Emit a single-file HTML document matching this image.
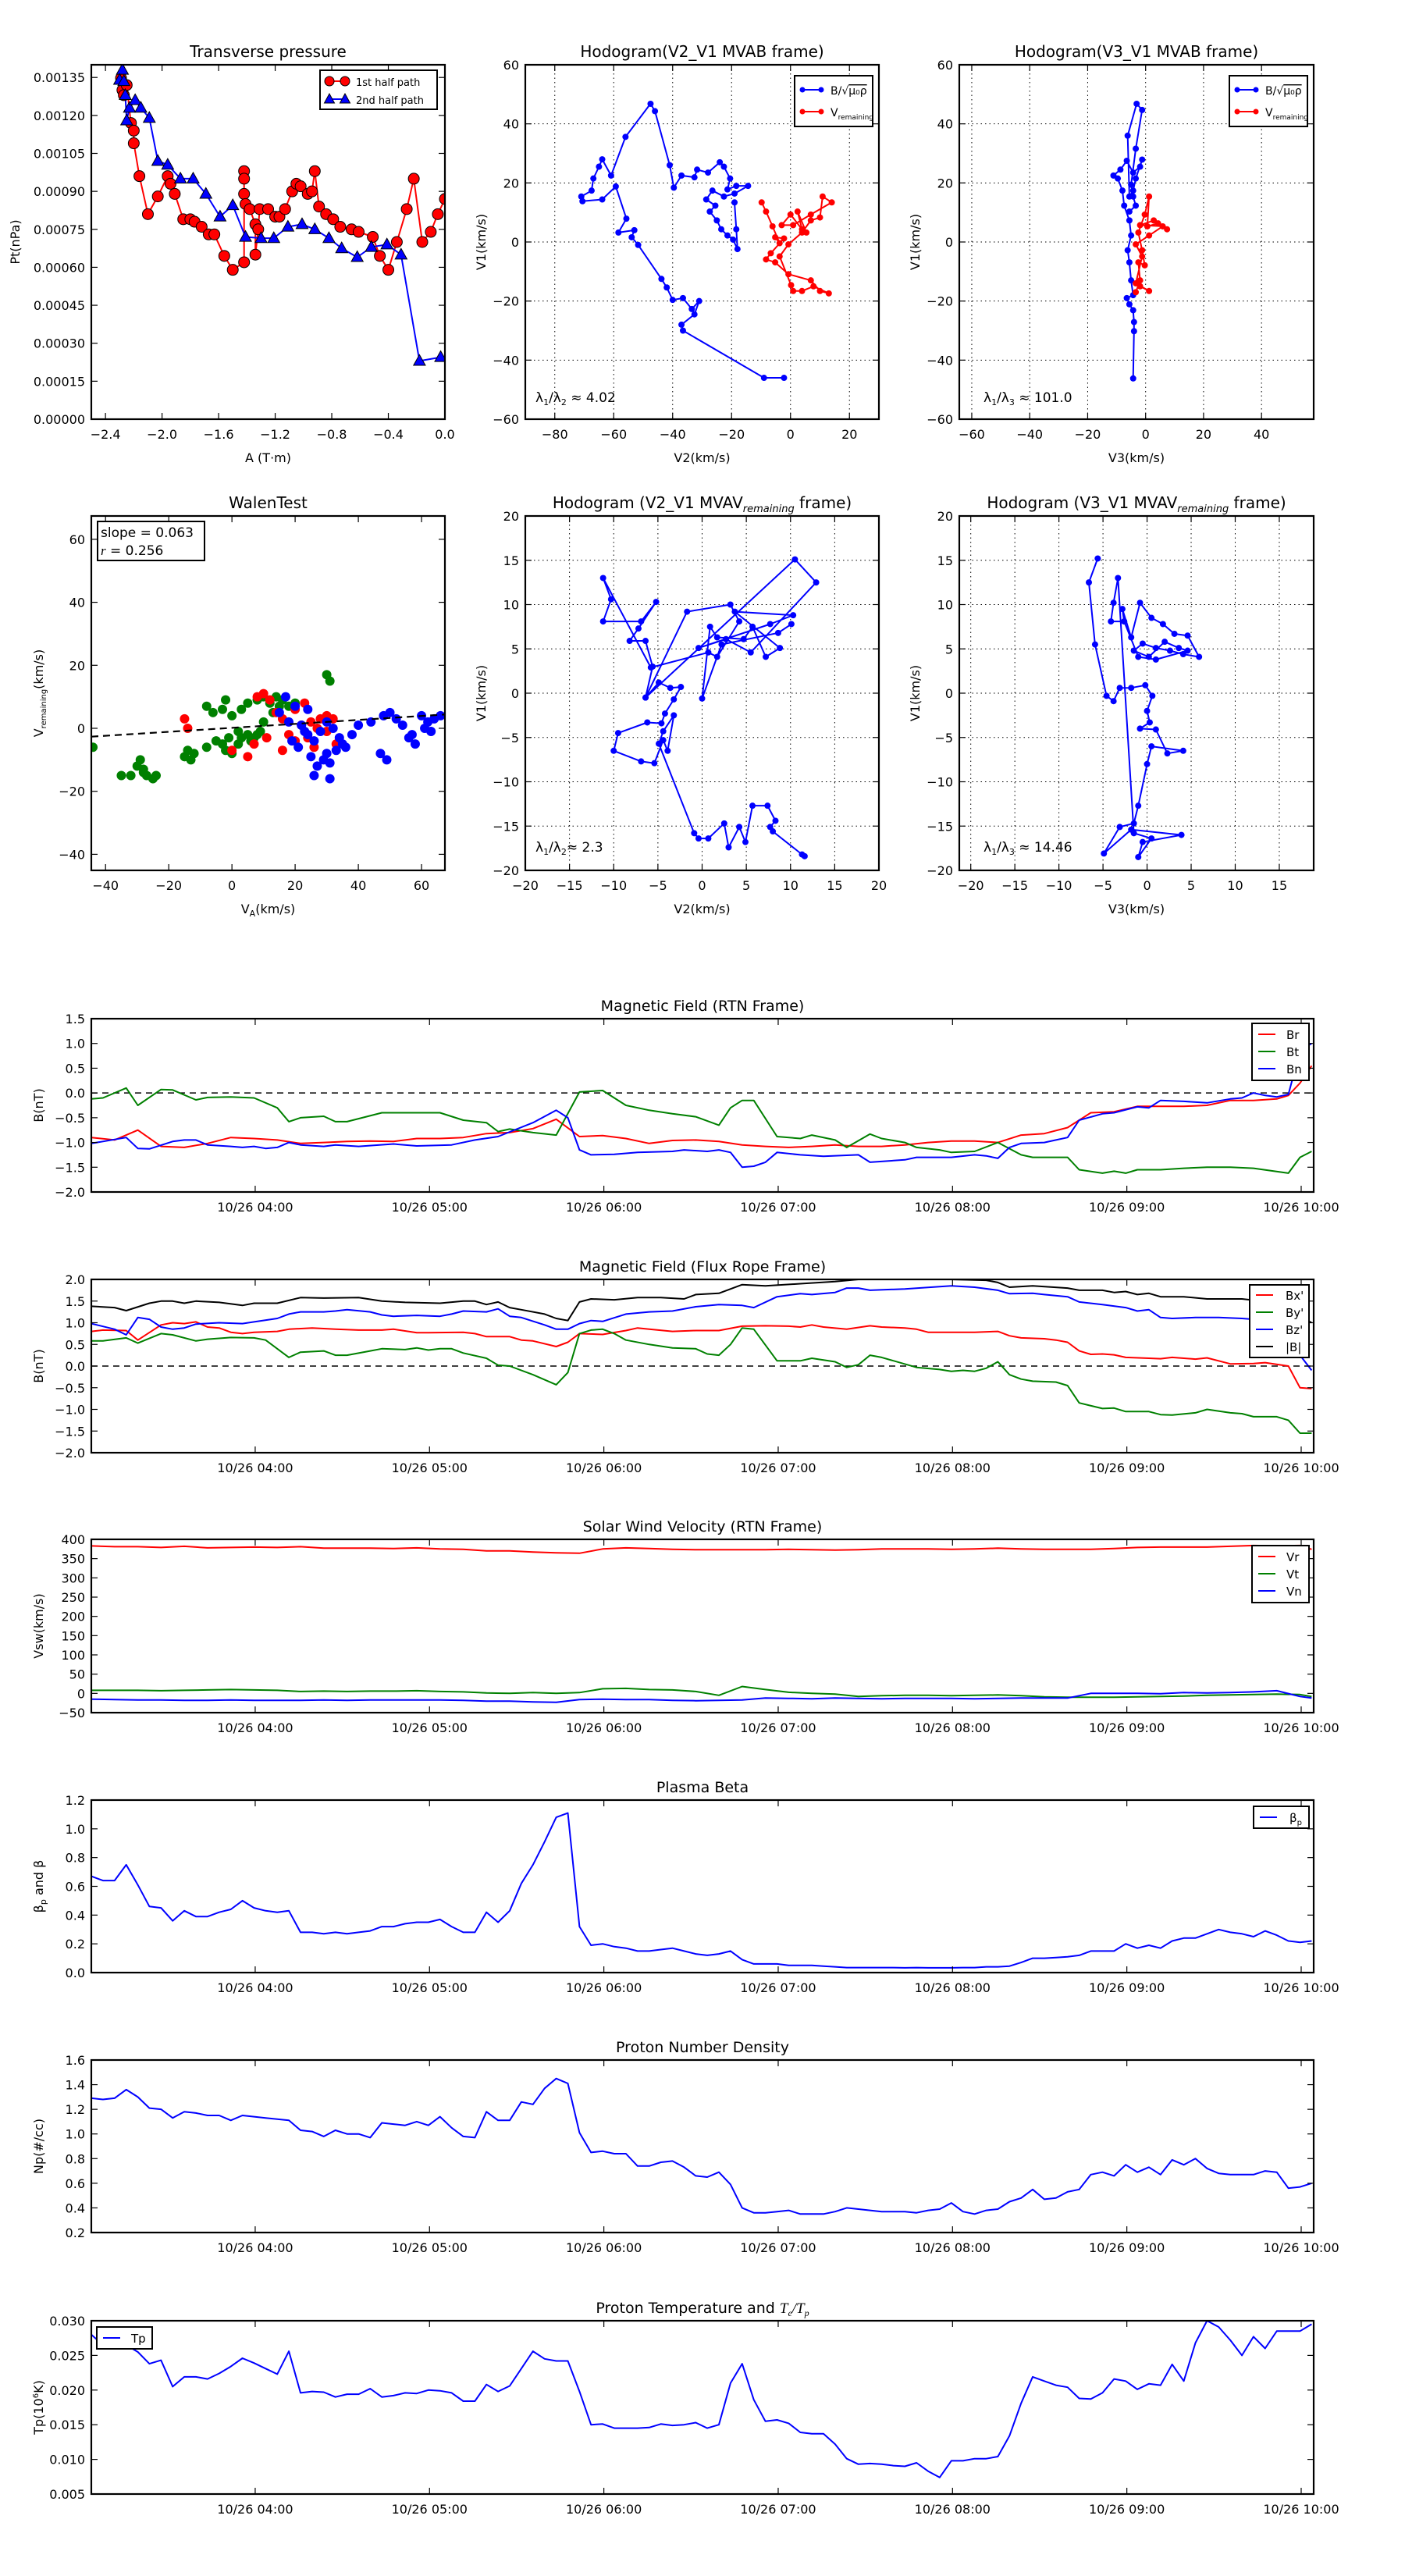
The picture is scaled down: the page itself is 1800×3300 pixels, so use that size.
<!DOCTYPE html>
<html><head><meta charset="utf-8">
<style>
html,body{margin:0;padding:0;background:#fff;}
svg{display:block;font-family:"DejaVu Sans","Liberation Sans",sans-serif;}
</style></head>
<body>
<svg id="fig" xmlns="http://www.w3.org/2000/svg" width="1800" height="3300" viewBox="0 0 1800 3300">
<rect x="0" y="0" width="1800" height="3300" fill="#fff"/>
</svg>
<script>
// ---------------- DATA ----------------
// Transverse pressure
const tp1A=[-2.29,-2.28,-2.27,-2.25,-2.22,-2.20,-2.20,-2.16,-2.10,-2.03,-1.96,-1.94,-1.91,-1.85,-1.80,-1.77,-1.72,-1.67,-1.63,-1.56,-1.50,-1.42,-1.42,-1.42,-1.42,-1.41,-1.38,-1.34,-1.34,-1.32,-1.31,-1.25,-1.20,-1.17,-1.13,-1.08,-1.05,-1.02,-0.97,-0.94,-0.92,-0.89,-0.84,-0.79,-0.74,-0.66,-0.61,-0.51,-0.46,-0.40,-0.34,-0.27,-0.22,-0.16,-0.10,-0.05,0.0];
const tp1P=[1.347,1.30,1.28,1.32,1.17,1.14,1.09,0.96,0.81,0.88,0.96,0.93,0.89,0.79,0.79,0.78,0.76,0.73,0.73,0.645,0.59,0.62,0.98,0.95,0.89,0.85,0.83,0.77,0.65,0.75,0.83,0.83,0.80,0.80,0.83,0.90,0.93,0.92,0.89,0.90,0.98,0.84,0.81,0.79,0.76,0.75,0.74,0.72,0.645,0.59,0.70,0.83,0.95,0.70,0.74,0.81,0.87];
const tp2A=[-2.28,-2.30,-2.27,-2.26,-2.25,-2.23,-2.19,-2.15,-2.09,-2.03,-1.96,-1.87,-1.78,-1.69,-1.59,-1.50,-1.41,-1.30,-1.21,-1.11,-1.01,-0.92,-0.82,-0.73,-0.62,-0.52,-0.41,-0.31,-0.18,-0.03];
const tp2P=[1.38,1.34,1.335,1.28,1.18,1.23,1.26,1.23,1.19,1.02,1.005,0.95,0.95,0.89,0.80,0.845,0.72,0.715,0.715,0.76,0.77,0.75,0.715,0.675,0.64,0.68,0.69,0.65,0.23,0.245];
// Hodogram V2-V1 MVAB
const h1BV2=[-2.2,-9,-36.5,-37,-32.6,-31,-33.5,-36.5,-40,-42,-43.8,-51.7,-53.9,-53,-58.4,-55.7,-59.3,-63.9,-70.6,-71,-67.5,-66.9,-65,-63.9,-60.9,-56,-47.5,-46,-41,-39.6,-37,-32.6,-31.7,-28,-24,-22.6,-20.5,-21.4,-18.4,-14.4,-19,-22.6,-26.5,-28.6,-25.5,-27.4,-25,-23.5,-21.4,-19.5,-18,-18.4,-19];
const h1BV1=[-46,-46,-30,-28,-24.5,-20,-22.7,-19,-19.6,-15.4,-12.5,-1,1.6,4,3.2,7.9,18.8,14.4,13.8,15.4,17.4,21.5,25.5,28,22.5,35.6,46.8,44.3,26,18.4,22.5,21.9,24.5,23.5,27,25.5,21.5,17.8,19,19,16.4,15.4,17.4,14.4,12.3,10.3,7.3,4.3,2.2,0.8,-2.4,4.3,13.4];
const h1VV2=[-9.8,-8.3,-6.1,-3.7,-5.2,-2.2,-6.7,-8.3,-5.2,-0.7,6.9,10,13,7.8,3.9,0.9,0.2,-3.7,-0.7,3.9,6.9,10,10.9,14,6.9,0.9,-3,0,3.9,2.4,5.4];
const h1VV1=[13.4,10.3,5.3,-0.4,1.6,1.2,-3.8,-5.9,-6.9,-10.9,-13,-16.6,-17.4,-15,-16.6,-16.6,-14.6,-4.9,-0.8,3.2,7.3,8.3,15.4,13.4,9.3,5.7,5.7,9.3,4.3,10.3,3.2];
// Hodogram V3-V1 MVAB
const h2BV3=[-4.3,-4.0,-4.0,-4.3,-5.6,-6.5,-4.3,-5.0,-5.6,-6.2,-5.0,-5.6,-7.4,-8.0,-9.6,-11.1,-8.7,-6.5,-4.3,-1.9,-1.2,-3.4,-4.3,-5.6,-6.2,-3.1,-1.2,-3.4,-5.0,-4.3,-3.4,-5.6];
const h2BV1=[-46.2,-30.2,-27.1,-23.1,-21.1,-19.0,-18.0,-13.0,-6.9,-2.8,2.2,7.3,12.3,17.4,21.5,22.5,24.5,27.5,23.5,25.5,27.9,21.5,17.4,15.4,36.0,46.8,44.7,31.6,19.4,15.4,12.3,10.3];
const h2VV3=[-3.4,-1.9,-2.5,-0.3,-1.2,-2.5,-0.3,1.2,0.6,4.3,7.4,2.8,-1.9,5.9,1.2,-3.4,-1.2,-3.4,1.2,-1.9];
const h2VV1=[-17,-13,-6.9,-7.9,-2.8,3.2,9.3,15.4,5.3,6.3,4.3,7.3,5.7,5.3,2.2,-0.8,-4.9,-14,-16.6,-15];
// Walen test
const wGx=[-44,-35,-32,-30,-29,-28,-27,-25,-24,-28,-15,-14,-13,-12,-8,-5,-3,-2,0,2,3,5,7,9,-8,-6,-3,-2,0,3,5,8,10,12,14,16,18,13,10,8,6,30,31,20,15,2,-1];
const wGy=[-6,-15,-15,-12,-10,-13,-15,-16,-15,-14,-9,-7,-10,-8,-6,-4,-5,-7,-8,-5,-3,-2,-3,-1,7,5,6,9,4,6,8,9,10,8,10,9,7,5,2,-2,-4,17,15,8,7,-1,-3];
const wRx=[-15,-14,0,5,8,10,12,14,16,18,20,22,24,25,28,30,32,33,26,16,20,23,27,30,11,7];
const wRy=[3,0,-7,-9,10,11,9,5,3,-2,-4,1,-3,2,3,4,3,-5,-6,-7,6,8,0,-1,-3,-5];
const wBx=[15,17,20,22,24,26,28,30,32,34,36,38,40,19,21,25,27,29,26,31,33,35,48,50,52,54,57,60,62,64,66,61,63,47,49,56,58,18,23,31,30,24,44];
const wBy=[5,10,7,1,-2,-4,-1,2,0,-3,-6,-2,1,-4,-6,-9,-12,-10,-15,-16,-7,-5,4,5,3,1,-2,4,2,3,4,0,-1,-8,-10,-3,-5,2,-1,-11,-8,6,2];
const walenSlope=0.063, walenIntercept=0.15;
// Hodogram V2-V1 MVAV remaining
const h3V2=[11.6,11.3,8,7.7,8.3,7.4,5.7,4.9,4.2,3,2.5,0.7,-0.4,-0.9,-4.9,-4.4,-3.2,-3.9,-4.4,-5.4,-6.9,-10,-9.5,-6.2,-4.6,-4.2,-3.2,-2.4,-3.6,-4.9,-6.4,-5.6,-6.4,-8.2,-7.2,-5.2,-6.9,-11.2,-10.3,-11.2,-5.8,0.7,1.7,4.2,3.2,-1.7,-6.4,10.5,12.9,5.5,2.7,-0.4,7.7,10.3,3.7,8.8,7.2,5.7,4.7,1.7,0.9,0,2.2,8.6,10.1];
const h3V1=[-18.4,-18.2,-15.6,-15.1,-14.4,-12.7,-12.7,-16.8,-15.1,-17.4,-14.7,-16.4,-16.4,-15.8,-5.7,-4.3,-2.5,-6.5,-5.3,-7.9,-7.7,-6.5,-4.5,-3.3,-3.4,-2.3,-0.7,0.7,0.6,1.2,-0.5,3,5.9,5.9,7.3,10.3,8.1,8.1,10.6,13,2.9,4.6,4.1,8.1,10,9.2,-0.5,15.1,12.5,4.6,6.1,5.1,7.8,8.8,9.2,5.1,4.1,7.5,6.1,6.3,7.5,-0.6,5.5,6.8,7.8];
// Hodogram V3-V1 MVAV remaining
const h4V3=[-5.6,-6.6,-5.9,-4.6,-3.8,-3.1,-1.8,-0.2,0.6,0,0.3,-0.8,1,2.3,4.1,0.5,0,-1,-1.5,-3.1,-4.9,-1.8,3.9,-0.5,-1,0.5,-1.5,-3.3,-3.8,-4.1,-2.6,-2.8,-1.8,-0.8,0.5,1.8,3.1,4.6,5.9,4.1,2.6,1,-0.5,-1.5,0.2,2,3.6,4.6,1,-1,-2.6];
const h4V1=[15.2,12.5,5.5,-0.3,-0.9,0.6,0.6,0.9,-0.3,-2,-3.3,-4,-4.1,-6.8,-6.5,-6,-8,-12.7,-14.7,-15.1,-18.1,-15.4,-16,-16.8,-18.5,-16.4,-15.8,13,10.2,8.1,8.1,9.5,6.3,10.2,8.5,7.8,6.7,6.5,4.1,4.4,4.8,5.1,5.6,4.8,4.1,5.8,5.1,4.8,3.8,4.1,8.1];
// Time series: sample index on a 4-minute grid starting 03:03.6
const timeTickLabels=["10/26 04:00","10/26 05:00","10/26 06:00","10/26 07:00","10/26 08:00","10/26 09:00","10/26 10:00"];
const timeTickMinutes=[60,120,180,240,300,360,420];
const BrIdx=[0,2,4,6,8,10,12,14,16,18,20,22,24,26,28,30,32,34,36,38,40,42,44,46,48,50,52,54,56,58,60,62,64,66,68,70,72,74,76,78,80,82,84,86,88,90,92,94,96,98,100,102,103,104,105];
const BrVal=[-0.90,-0.95,-0.75,-1.08,-1.10,-1.02,-0.90,-0.92,-0.95,-1.02,-1.00,-0.98,-0.97,-0.98,-0.92,-0.92,-0.90,-0.82,-0.80,-0.72,-0.53,-0.88,-0.86,-0.92,-1.02,-0.96,-0.95,-0.98,-1.05,-1.08,-1.10,-1.08,-1.05,-1.08,-1.08,-1.05,-1.00,-0.97,-0.97,-1.00,-0.85,-0.82,-0.70,-0.40,-0.38,-0.27,-0.27,-0.27,-0.25,-0.15,-0.15,-0.12,-0.05,0.2,0.55];
const BtIdx=[0,1,3,4,6,7,9,10,12,14,16,17,18,20,21,22,25,28,30,32,34,35,36,38,40,42,44,46,48,50,52,54,55,56,57,59,61,62,64,65,67,68,70,71,73,74,76,78,80,81,84,85,87,88,89,90,92,94,96,98,100,103,104,105];
const BtVal=[-0.12,-0.1,0.1,-0.25,0.07,0.06,-0.14,-0.09,-0.08,-0.1,-0.3,-0.58,-0.5,-0.47,-0.58,-0.58,-0.4,-0.4,-0.4,-0.55,-0.6,-0.78,-0.73,-0.8,-0.85,0.02,0.05,-0.25,-0.35,-0.42,-0.48,-0.65,-0.3,-0.15,-0.15,-0.88,-0.92,-0.85,-0.95,-1.1,-0.83,-0.92,-1.0,-1.1,-1.15,-1.2,-1.18,-1.0,-1.25,-1.3,-1.3,-1.55,-1.62,-1.58,-1.62,-1.55,-1.55,-1.52,-1.5,-1.5,-1.52,-1.62,-1.3,-1.18];
const BnIdx=[0,3,4,5,7,8,9,10,12,13,14,15,16,17,18,20,21,23,26,28,31,33,35,38,40,41,42,43,45,47,50,51,53,54,55,56,57,58,59,61,63,66,67,70,71,74,76,77,78,79,80,82,83,84,85,87,88,90,91,92,94,96,98,99,100,101,102,103,104,105];
const BnVal=[-1.02,-0.9,-1.12,-1.13,-0.98,-0.95,-0.95,-1.05,-1.08,-1.1,-1.08,-1.12,-1.1,-1.0,-1.05,-1.08,-1.05,-1.08,-1.03,-1.07,-1.05,-0.95,-0.88,-0.6,-0.35,-0.5,-1.15,-1.25,-1.24,-1.2,-1.18,-1.15,-1.18,-1.15,-1.2,-1.5,-1.48,-1.4,-1.2,-1.25,-1.28,-1.25,-1.4,-1.35,-1.3,-1.3,-1.25,-1.27,-1.32,-1.1,-1.02,-1.0,-0.95,-0.9,-0.55,-0.42,-0.4,-0.28,-0.3,-0.15,-0.17,-0.2,-0.12,-0.1,0,-0.05,-0.08,-0.03,0.85,1.0];
const BxIdx=[0,1,3,4,6,7,8,9,10,11,12,13,14,16,17,19,21,23,25,26,28,29,32,33,34,36,37,38,40,41,42,44,46,47,48,50,52,54,56,58,60,61,62,63,65,67,68,70,71,72,74,76,78,79,80,82,83,84,85,86,87,88,89,91,92,93,95,96,98,100,101,103,104,105];
const BxVal=[0.8,0.83,0.82,0.6,0.95,1.0,0.98,1.02,0.9,0.88,0.78,0.75,0.78,0.8,0.85,0.88,0.85,0.83,0.83,0.85,0.77,0.77,0.78,0.75,0.68,0.68,0.6,0.58,0.45,0.55,0.75,0.73,0.82,0.88,0.85,0.8,0.82,0.82,0.92,0.93,0.92,0.9,0.95,0.9,0.85,0.93,0.9,0.88,0.85,0.78,0.78,0.78,0.8,0.7,0.65,0.63,0.6,0.55,0.35,0.27,0.28,0.26,0.2,0.18,0.17,0.2,0.16,0.19,0.05,0.06,0.08,0.0,-0.5,-0.52];
const ByIdx=[0,1,3,4,6,7,9,10,12,14,15,17,18,20,21,22,24,25,27,28,29,30,31,32,34,35,36,38,40,41,42,43,44,45,46,48,50,52,53,54,55,56,57,59,61,62,64,65,66,67,68,71,73,74,75,76,77,78,79,80,81,83,84,85,87,88,89,91,92,93,95,96,98,99,100,102,103,104,105];
const ByVal=[0.58,0.58,0.65,0.53,0.75,0.72,0.58,0.62,0.66,0.65,0.6,0.2,0.32,0.35,0.25,0.25,0.35,0.4,0.38,0.42,0.37,0.4,0.4,0.3,0.18,0.02,0.0,-0.2,-0.43,-0.15,0.75,0.83,0.85,0.75,0.6,0.5,0.42,0.4,0.28,0.25,0.5,0.88,0.85,0.12,0.12,0.18,0.1,-0.03,0.03,0.25,0.2,-0.03,-0.08,-0.12,-0.1,-0.12,-0.05,0.1,-0.2,-0.3,-0.35,-0.37,-0.45,-0.85,-0.98,-0.97,-1.05,-1.05,-1.12,-1.13,-1.08,-1.0,-1.08,-1.1,-1.17,-1.17,-1.25,-1.55,-1.55];
const BzIdx=[0,2,3,4,5,6,7,8,9,11,13,14,16,17,18,20,21,22,24,25,26,28,30,31,32,34,35,36,37,39,40,41,42,43,44,46,48,50,52,54,56,57,59,61,62,64,65,66,67,70,74,76,78,79,81,82,84,85,87,89,90,91,92,93,95,97,99,100,103,104,105];
const BzVal=[0.98,0.85,0.72,1.12,1.08,0.9,0.85,0.88,0.97,1.0,0.98,1.02,1.1,1.2,1.25,1.25,1.27,1.3,1.25,1.18,1.15,1.17,1.15,1.2,1.27,1.25,1.32,1.15,1.12,0.95,0.85,0.85,0.98,1.05,1.03,1.2,1.25,1.27,1.37,1.42,1.4,1.35,1.6,1.67,1.65,1.7,1.8,1.8,1.75,1.78,1.85,1.82,1.75,1.67,1.68,1.65,1.6,1.48,1.42,1.35,1.27,1.3,1.12,1.1,1.12,1.12,1.1,1.08,0.7,0.25,-0.1];
const BmIdx=[0,2,3,5,6,7,8,9,11,13,14,16,18,20,23,25,27,30,32,33,34,35,36,37,39,40,41,42,43,45,47,49,51,52,54,56,58,61,64,66,70,74,77,78,79,81,84,85,87,88,89,90,91,92,94,96,99,100,102,103,105];
const BmVal=[1.38,1.35,1.28,1.45,1.5,1.5,1.45,1.5,1.47,1.4,1.45,1.45,1.58,1.57,1.58,1.5,1.47,1.45,1.5,1.5,1.42,1.48,1.35,1.3,1.2,1.1,1.05,1.48,1.55,1.53,1.58,1.58,1.55,1.65,1.68,1.88,1.85,1.9,1.95,2.0,2.0,2.0,1.98,1.93,1.82,1.85,1.8,1.75,1.75,1.7,1.72,1.65,1.68,1.6,1.6,1.55,1.55,1.52,1.5,1.3,1.0];
const evenIdx=[0,2,4,6,8,10,12,14,16,18,20,22,24,26,28,30,32,34,36,38,40,42,44,46,48,50,52,54,56,58,60,62,64,66,68,70,72,74,76,78,80,82,84,86,88,90,92,94,96,98,100,102,104,105];
const VrVal=[383,381,381,379,382,378,379,380,379,381,377,377,377,376,378,375,374,370,370,367,365,364,375,378,376,374,373,373,373,373,374,373,372,373,375,375,375,374,375,377,375,374,374,374,376,379,380,380,380,382,384,383,384,374];
const VtVal=[8,8,8,7,8,9,10,9,8,5,6,5,6,6,7,5,4,1,0,2,0,2,12,13,10,9,5,-5,18,10,3,0,-2,-8,-6,-5,-5,-6,-5,-4,-6,-9,-10,-10,-10,-9,-8,-7,-5,-4,-3,-2,-3,-8];
const VnVal=[-15,-16,-17,-17,-18,-18,-17,-18,-18,-18,-17,-18,-17,-17,-17,-17,-18,-20,-20,-22,-23,-16,-15,-16,-16,-18,-19,-18,-17,-12,-13,-14,-12,-13,-14,-13,-13,-13,-14,-13,-12,-12,-12,0,0,0,-1,2,1,2,4,7,-8,-12];
const betaVal=[0.67,0.64,0.64,0.75,0.61,0.46,0.45,0.36,0.43,0.39,0.39,0.42,0.44,0.50,0.45,0.43,0.42,0.43,0.28,0.28,0.27,0.28,0.27,0.28,0.29,0.32,0.32,0.34,0.35,0.35,0.37,0.32,0.28,0.28,0.42,0.35,0.43,0.62,0.75,0.91,1.08,1.11,0.32,0.19,0.20,0.18,0.17,0.15,0.15,0.16,0.17,0.15,0.13,0.12,0.13,0.15,0.09,0.06,0.06,0.06,0.05,0.05,0.05,0.045,0.04,0.035,0.035,0.035,0.035,0.035,0.033,0.035,0.033,0.033,0.033,0.035,0.035,0.04,0.04,0.045,0.07,0.10,0.10,0.105,0.11,0.12,0.15,0.15,0.15,0.20,0.17,0.19,0.17,0.22,0.24,0.24,0.27,0.30,0.28,0.27,0.25,0.29,0.26,0.22,0.21,0.22];
const npVal=[1.29,1.28,1.29,1.36,1.30,1.21,1.20,1.13,1.18,1.17,1.15,1.15,1.11,1.15,1.14,1.13,1.12,1.11,1.03,1.02,0.98,1.03,1.00,1.00,0.97,1.09,1.08,1.07,1.10,1.07,1.14,1.05,0.98,0.97,1.18,1.11,1.11,1.26,1.24,1.37,1.45,1.41,1.01,0.85,0.86,0.84,0.84,0.74,0.74,0.77,0.78,0.73,0.66,0.65,0.69,0.59,0.40,0.36,0.36,0.37,0.38,0.35,0.35,0.35,0.37,0.40,0.39,0.38,0.37,0.37,0.37,0.36,0.38,0.39,0.44,0.37,0.35,0.38,0.39,0.45,0.48,0.55,0.47,0.48,0.53,0.55,0.67,0.69,0.66,0.75,0.69,0.73,0.67,0.79,0.75,0.80,0.72,0.68,0.67,0.67,0.67,0.70,0.69,0.56,0.57,0.60];
const tpVal=[0.0280,0.0265,0.0262,0.0265,0.0255,0.0238,0.0243,0.0205,0.0219,0.0219,0.0216,0.0224,0.0234,0.0246,0.0239,0.0231,0.0223,0.0256,0.0196,0.0198,0.0197,0.0190,0.0194,0.0194,0.0202,0.0190,0.0192,0.0196,0.0195,0.0200,0.0199,0.0196,0.0184,0.0184,0.0208,0.0198,0.0206,0.0231,0.0256,0.0245,0.0242,0.0242,0.0198,0.0150,0.0151,0.0145,0.0145,0.0145,0.0146,0.0151,0.0149,0.0150,0.0153,0.0145,0.0150,0.0210,0.0238,0.0186,0.0155,0.0157,0.0152,0.0139,0.0137,0.0137,0.0122,0.0101,0.0093,0.0094,0.0093,0.0091,0.0090,0.0095,0.0083,0.0074,0.0098,0.0098,0.0101,0.0101,0.0104,0.0134,0.0181,0.0219,0.0213,0.0207,0.0204,0.0188,0.0187,0.0196,0.0216,0.0213,0.0201,0.0209,0.0207,0.0237,0.0213,0.0268,0.0300,0.0291,0.0272,0.0250,0.0277,0.0260,0.0285,0.0285,0.0285,0.0295];

// ---------------- DRAWING ----------------
const NS="http://www.w3.org/2000/svg";
const fig=document.getElementById('fig');
let clipN=0;
function el(tag,attrs,parent,txt){const e=document.createElementNS(NS,tag);for(const k in attrs)e.setAttribute(k,attrs[k]);if(txt!==undefined)e.textContent=txt;(parent||fig).appendChild(e);return e;}
function fmt(v,d){const s=Math.abs(v).toFixed(d);return (v<-1e-12?"\u2212":"")+s;}
function range(a,b,s){const r=[];for(let v=a;v<=b+s*1e-6;v+=s)r.push(Math.round(v/s)*s);return r;}

function makeAxes(o){
  const g=el('g',{});
  
  
  const sx=v=>o.x0+(v-o.xmin)/(o.xmax-o.xmin)*(o.x1-o.x0);
  const sy=v=>o.y1-(v-o.ymin)/(o.ymax-o.ymin)*(o.y1-o.y0);
  const id='c'+(clipN++);
  const cp=el('clipPath',{id:id},g);el('rect',{x:o.x0,y:o.y0,width:o.x1-o.x0,height:o.y1-o.y0},cp);
  if(o.grid){
    o.xt.forEach(v=>{const l=el('line',{x1:sx(v),x2:sx(v),y1:o.y0,y2:o.y1,stroke:'#000','stroke-width':1,'stroke-dasharray':'1.5,4'},g);});
    o.yt.forEach(v=>{const l=el('line',{x1:o.x0,x2:o.x1,y1:sy(v),y2:sy(v),stroke:'#000','stroke-width':1,'stroke-dasharray':'1.5,4'},g);});
  }
  const data=el('g',{'clip-path':'url(#'+id+')'},g);
  
  
  const frame=el('g',{},g);
  
  
  o.xt.forEach((v,i)=>{const x=sx(v);
    el('line',{x1:x,x2:x,y1:o.y1,y2:o.y1-8,stroke:'#000','stroke-width':1.2},frame);
    el('line',{x1:x,x2:x,y1:o.y0,y2:o.y0+8,stroke:'#000','stroke-width':1.2},frame);
    const t=el('text',{x:x,y:o.y1+25,'font-size':16,'text-anchor':'middle'},frame,o.xtl[i]);
    });
  o.yt.forEach((v,i)=>{const y=sy(v);
    el('line',{x1:o.x0,x2:o.x0+8,y1:y,y2:y,stroke:'#000','stroke-width':1.2},frame);
    el('line',{x1:o.x1,x2:o.x1-8,y1:y,y2:y,stroke:'#000','stroke-width':1.2},frame);
    const t=el('text',{x:o.x0-8,y:y+6,'font-size':16,'text-anchor':'end'},frame,o.ytl[i]);
    });
  el('rect',{x:o.x0,y:o.y0,width:o.x1-o.x0,height:o.y1-o.y0,fill:'none',stroke:'#000','stroke-width':2.2},frame);
  const tt=el('text',{x:(o.x0+o.x1)/2,y:o.y0-10,'font-size':o.tfs||20,'text-anchor':'middle'},g);
  
  tt.innerHTML=o.title;
  if(o.xlabel){const t=el('text',{x:(o.x0+o.x1)/2,y:o.y1+55,'font-size':16,'text-anchor':'middle'},g);t.innerHTML=o.xlabel;}
  if(o.ylabel){const yx=o.ylx,yy=(o.y0+o.y1)/2;const t=el('text',{x:yx,y:yy,'font-size':16,'text-anchor':'middle',transform:'rotate(-90 '+yx+' '+yy+')'},g);t.innerHTML=o.ylabel;}
  return {g,data,frame,sx,sy,o};
}
function line(ax,xs,ys,color,name,w){
  const n=Math.min(xs.length,ys.length);const pts=[];
  for(let i=0;i<n;i++)pts.push(ax.sx(xs[i]).toFixed(1)+','+ax.sy(ys[i]).toFixed(1));
  const p=el('polyline',{points:pts.join(' '),fill:'none',stroke:color,'stroke-width':w||2,'stroke-linejoin':'round'},ax.data);
  return p;
}
function dots(ax,xs,ys,color,name,r,stroke){
  const n=Math.min(xs.length,ys.length);
  for(let i=0;i<n;i++){const c=el('circle',{cx:ax.sx(xs[i]),cy:ax.sy(ys[i]),r:r,fill:color,stroke:stroke||'none','stroke-width':1},ax.data);
    }
}
function tris(ax,xs,ys,color,name,s){
  const n=Math.min(xs.length,ys.length);
  for(let i=0;i<n;i++){const x=ax.sx(xs[i]),y=ax.sy(ys[i]);
    const p=el('polygon',{points:`${x},${y-s} ${x-s*0.95},${y+s*0.7} ${x+s*0.95},${y+s*0.7}`,fill:color,stroke:'#000','stroke-width':1},ax.data);
    }
}
function legend(ax,x,y,w,h,entries,opts){
  const g=el('g',{},ax.g);
  
  el('rect',{x:x,y:y,width:w,height:h,fill:'#fff',stroke:'#000','stroke-width':2},g);
  entries.forEach((e,i)=>{const yy=y+opts.first+i*opts.step;
    const eg=el('g',{},g);
    el('line',{x1:x+8,x2:x+8+opts.len,y1:yy,y2:yy,stroke:e.c,'stroke-width':2},eg);
    if(e.m==='o'){el('circle',{cx:x+12,cy:yy,r:6,fill:e.c,stroke:'#000'},eg);el('circle',{cx:x+8+opts.len-4,cy:yy,r:6,fill:e.c,stroke:'#000'},eg);}
    if(e.m==='^'){[x+12,x+8+opts.len-4].forEach(cx=>el('polygon',{points:`${cx},${yy-7} ${cx-6.5},${yy+5} ${cx+6.5},${yy+5}`,fill:e.c,stroke:'#000'},eg));}
    if(e.m==='.'){[x+10,x+8+opts.len-2].forEach(cx=>el('circle',{cx:cx,cy:yy,r:3.5,fill:e.c},eg));}
    const t=el('text',{x:x+opts.tx,y:yy+6,'font-size':opts.fs||15},eg);t.innerHTML=e.t;});
}

// Row 1
const R1y0=83,R1y1=537,R2y0=661,R2y1=1115;
const axT=makeAxes({name:'transverse-pressure-chart',x0:117,x1:570,y0:R1y0,y1:R1y1,xmin:-2.5,xmax:0,ymin:0,ymax:1.4,
  xt:range(-2.4,0,0.4),xtl:range(-2.4,0,0.4).map(v=>fmt(v,1)),yt:range(0,1.35,0.15),ytl:range(0,1.35,0.15).map(v=>(v/1000).toFixed(5)),
  title:'Transverse pressure',xlabel:'A (T\u00b7m)',ylabel:'Pt(nPa)',ylx:25});
line(axT,tp1A,tp1P,'#ff0000','first-half-path-line',2);
line(axT,tp2A,tp2P,'#0000ff','second-half-path-line',2);
dots(axT,tp1A,tp1P,'#ff0000','first-half-marker',7,'#000');
tris(axT,tp2A,tp2P,'#0000ff','second-half-marker',8);
legend(axT,410,90,150,50,[{c:'#ff0000',m:'o',t:'1st half path'},{c:'#0000ff',m:'^',t:'2nd half path'}],{first:14,step:23,len:28,tx:46,fs:13});

const axH1=makeAxes({name:'hodogram-v2-v1-mvab',x0:673,x1:1126,y0:R1y0,y1:R1y1,xmin:-90,xmax:30,ymin:-60,ymax:60,
  xt:range(-80,20,20),xtl:range(-80,20,20).map(v=>fmt(v,0)),yt:range(-60,60,20),ytl:range(-60,60,20).map(v=>fmt(v,0)),grid:true,
  title:'Hodogram(V2_V1 MVAB frame)',xlabel:'V2(km/s)',ylabel:'V1(km/s)',ylx:622});
line(axH1,h1BV2,h1BV1,'#0000ff','b-alfven-path',2);dots(axH1,h1BV2,h1BV1,'#0000ff','b-alfven-point',4);
line(axH1,h1VV2,h1VV1,'#ff0000','v-remaining-path',2);dots(axH1,h1VV2,h1VV1,'#ff0000','v-remaining-point',4);
legend(axH1,1018,97,100,65,[{c:'#0000ff',m:'.',t:'B/\u221a<tspan style="text-decoration:overline">\u03bc\u2080\u03c1</tspan>'},{c:'#ff0000',m:'.',t:'V<tspan font-size="9" dy="4">remaining</tspan>'}],{first:18,step:28,len:28,tx:46,fs:14});
let t=el('text',{x:686,y:515,'font-size':17},axH1.g);t.innerHTML='\u03bb<tspan font-size="11" dy="4">1</tspan><tspan dy="-4">/\u03bb</tspan><tspan font-size="11" dy="4">2</tspan><tspan dy="-4"> \u2248 4.02</tspan>';


const axH2=makeAxes({name:'hodogram-v3-v1-mvab',x0:1229,x1:1683,y0:R1y0,y1:R1y1,xmin:-64.3,xmax:58,ymin:-60,ymax:60,
  xt:range(-60,40,20),xtl:range(-60,40,20).map(v=>fmt(v,0)),yt:range(-60,60,20),ytl:range(-60,60,20).map(v=>fmt(v,0)),grid:true,
  title:'Hodogram(V3_V1 MVAB frame)',xlabel:'V3(km/s)',ylabel:'V1(km/s)',ylx:1178});
line(axH2,h2BV3,h2BV1,'#0000ff','b-alfven-path',2);dots(axH2,h2BV3,h2BV1,'#0000ff','b-alfven-point',4);
line(axH2,h2VV3,h2VV1,'#ff0000','v-remaining-path',2);dots(axH2,h2VV3,h2VV1,'#ff0000','v-remaining-point',4);
legend(axH2,1575,97,100,65,[{c:'#0000ff',m:'.',t:'B/\u221a<tspan style="text-decoration:overline">\u03bc\u2080\u03c1</tspan>'},{c:'#ff0000',m:'.',t:'V<tspan font-size="9" dy="4">remaining</tspan>'}],{first:18,step:28,len:28,tx:46,fs:14});
t=el('text',{x:1260,y:515,'font-size':17},axH2.g);t.innerHTML='\u03bb<tspan font-size="11" dy="4">1</tspan><tspan dy="-4">/\u03bb</tspan><tspan font-size="11" dy="4">3</tspan><tspan dy="-4"> \u2248 101.0</tspan>';


// Row 2
const axW=makeAxes({name:'walen-test-chart',x0:117,x1:570,y0:R2y0,y1:R2y1,xmin:-44.5,xmax:67.4,ymin:-45.1,ymax:67.4,
  xt:range(-40,60,20),xtl:range(-40,60,20).map(v=>fmt(v,0)),yt:range(-40,60,20),ytl:range(-40,60,20).map(v=>fmt(v,0)),
  title:'WalenTest',xlabel:'V<tspan font-size="11" dy="4">A</tspan><tspan dy="-4">(km/s)</tspan>',ylabel:'V<tspan font-size="10" dy="4">remaining</tspan><tspan dy="-4">(km/s)</tspan>',ylx:55});
dots(axW,wGx,wGy,'#008000','walen-point-green',6);
dots(axW,wRx,wRy,'#ff0000','walen-point-red',6);
dots(axW,wBx,wBy,'#0000ff','walen-point-blue',6);
const wlx=[-44.5,67.4],wly=wlx.map(v=>walenSlope*v+walenIntercept);
const wl=line(axW,wlx,wly,'#000','walen-fit-line',2.2);wl.setAttribute('stroke-dasharray','9,6');
{const g=el('g',{},axW.g);
 el('rect',{x:125,y:668,width:137,height:50,fill:'#fff',stroke:'#000','stroke-width':2},g);
 el('text',{x:129,y:688,'font-size':17},g,'slope = 0.063');
 const tt=el('text',{x:129,y:711,'font-size':17},g);tt.innerHTML='<tspan font-style="italic" font-family="Liberation Serif">r</tspan> = 0.256';}

const axH3=makeAxes({name:'hodogram-v2-v1-mvav',x0:673,x1:1126,y0:R2y0,y1:R2y1,xmin:-20,xmax:20,ymin:-20,ymax:20,
  xt:range(-20,20,5),xtl:range(-20,20,5).map(v=>fmt(v,0)),yt:range(-20,20,5),ytl:range(-20,20,5).map(v=>fmt(v,0)),grid:true,
  title:'Hodogram (V2_V1 MVAV<tspan font-size="13" dy="5" font-style="italic">remaining</tspan><tspan dy="-5"> frame)</tspan>',xlabel:'V2(km/s)',ylabel:'V1(km/s)',ylx:622});
line(axH3,h3V2,h3V1,'#0000ff','hodogram-path',2);dots(axH3,h3V2,h3V1,'#0000ff','hodogram-point',4);
t=el('text',{x:686,y:1091,'font-size':17},axH3.g);t.innerHTML='\u03bb<tspan font-size="11" dy="4">1</tspan><tspan dy="-4">/\u03bb</tspan><tspan font-size="11" dy="4">2</tspan><tspan dy="-4">\u2248 2.3</tspan>';


const axH4=makeAxes({name:'hodogram-v3-v1-mvav',x0:1229,x1:1683,y0:R2y0,y1:R2y1,xmin:-21.3,xmax:18.9,ymin:-20,ymax:20,
  xt:range(-20,15,5),xtl:range(-20,15,5).map(v=>fmt(v,0)),yt:range(-20,20,5),ytl:range(-20,20,5).map(v=>fmt(v,0)),grid:true,
  title:'Hodogram (V3_V1 MVAV<tspan font-size="13" dy="5" font-style="italic">remaining</tspan><tspan dy="-5"> frame)</tspan>',xlabel:'V3(km/s)',ylabel:'V1(km/s)',ylx:1178});
line(axH4,h4V3,h4V1,'#0000ff','hodogram-path',2);dots(axH4,h4V3,h4V1,'#0000ff','hodogram-point',4);
t=el('text',{x:1260,y:1091,'font-size':17},axH4.g);t.innerHTML='\u03bb<tspan font-size="11" dy="4">1</tspan><tspan dy="-4">/\u03bb</tspan><tspan font-size="11" dy="4">3</tspan><tspan dy="-4"> \u2248 14.46</tspan>';


// Time series
const idxToMin=i=>3.6+4*i;
const allIdx=betaVal.map((_,i)=>i);
function tsAxes(name,y0,y1,ymin,ymax,yt,dec,title,ylabel){
  return makeAxes({name:name,x0:117,x1:1683,y0:y0,y1:y1,xmin:3.6,xmax:424.3,ymin:ymin,ymax:ymax,
    xt:timeTickMinutes,xtl:timeTickLabels,yt:yt,ytl:yt.map(v=>fmt(v,dec)),title:title,ylabel:ylabel,ylx:55,tfs:19});
}
function ts(ax,idx,vals,c,name){line(ax,idx.map(idxToMin),vals,c,name,2);}
function zeroLine(ax){const l=el('line',{x1:ax.o.x0,x2:ax.o.x1,y1:ax.sy(0),y2:ax.sy(0),stroke:'#000','stroke-width':1.5,'stroke-dasharray':'8,6'},ax.data);}

const P1=tsAxes('magnetic-field-rtn-chart',1305,1527,-2,1.5,range(-2,1.5,0.5),1,'Magnetic Field (RTN Frame)','B(nT)');
zeroLine(P1);ts(P1,BrIdx,BrVal,'#ff0000','br-line');ts(P1,BtIdx,BtVal,'#008000','bt-line');ts(P1,BnIdx,BnVal,'#0000ff','bn-line');
legend(P1,1604,1311,73,73,[{c:'#ff0000',t:'Br'},{c:'#008000',t:'Bt'},{c:'#0000ff',t:'Bn'}],{first:14,step:22,len:22,tx:44,fs:15});

const P2=tsAxes('magnetic-field-flux-rope-chart',1639,1861,-2,2,range(-2,2,0.5),1,'Magnetic Field (Flux Rope Frame)','B(nT)');
zeroLine(P2);ts(P2,BxIdx,BxVal,'#ff0000','bx-line');ts(P2,ByIdx,ByVal,'#008000','by-line');ts(P2,BzIdx,BzVal,'#0000ff','bz-line');ts(P2,BmIdx,BmVal,'#000000','b-magnitude-line');
legend(P2,1601,1646,76,93,[{c:'#ff0000',t:"Bx'"},{c:'#008000',t:"By'"},{c:'#0000ff',t:"Bz'"},{c:'#000',t:'|B|'}],{first:13,step:22,len:22,tx:46,fs:15});

const P3=tsAxes('solar-wind-velocity-chart',1972,2194,-50,400,range(-50,400,50),0,'Solar Wind Velocity (RTN Frame)','Vsw(km/s)');
ts(P3,evenIdx,VrVal,'#ff0000','vr-line');ts(P3,evenIdx,VtVal,'#008000','vt-line');ts(P3,evenIdx,VnVal,'#0000ff','vn-line');
legend(P3,1604,1980,73,73,[{c:'#ff0000',t:'Vr'},{c:'#008000',t:'Vt'},{c:'#0000ff',t:'Vn'}],{first:14,step:22,len:22,tx:44,fs:15});

const P4=tsAxes('plasma-beta-chart',2306,2527,0,1.2,range(0,1.2,0.2),1,'Plasma Beta','\u03b2<tspan font-size="11" dy="4">p</tspan><tspan dy="-4"> and \u03b2</tspan>');
ts(P4,allIdx,betaVal,'#0000ff','beta-line');
legend(P4,1606,2314,71,28,[{c:'#0000ff',t:'\u03b2<tspan font-size="10" dy="4">p</tspan>'}],{first:14,step:22,len:22,tx:46,fs:15});

const P5=tsAxes('proton-density-chart',2639,2860,0.2,1.6,range(0.2,1.6,0.2),1,'Proton Number Density','Np(#/cc)');
ts(P5,allIdx,npVal,'#0000ff','np-line');

const P6=tsAxes('proton-temperature-chart',2973,3195,0.005,0.030,range(0.005,0.030,0.005),3,'Proton Temperature and <tspan font-style="italic" font-family="Liberation Serif">T<tspan font-size="12" dy="4">e</tspan><tspan dy="-4">/T</tspan><tspan font-size="12" dy="4">p</tspan></tspan>','Tp(10<tspan font-size="10" dy="-6">6</tspan><tspan dy="6">K)</tspan>');
ts(P6,allIdx,tpVal,'#0000ff','tp-line');
legend(P6,124,2981,71,28,[{c:'#0000ff',t:'Tp'}],{first:14,step:22,len:22,tx:44,fs:15});
</script>
</body></html>
